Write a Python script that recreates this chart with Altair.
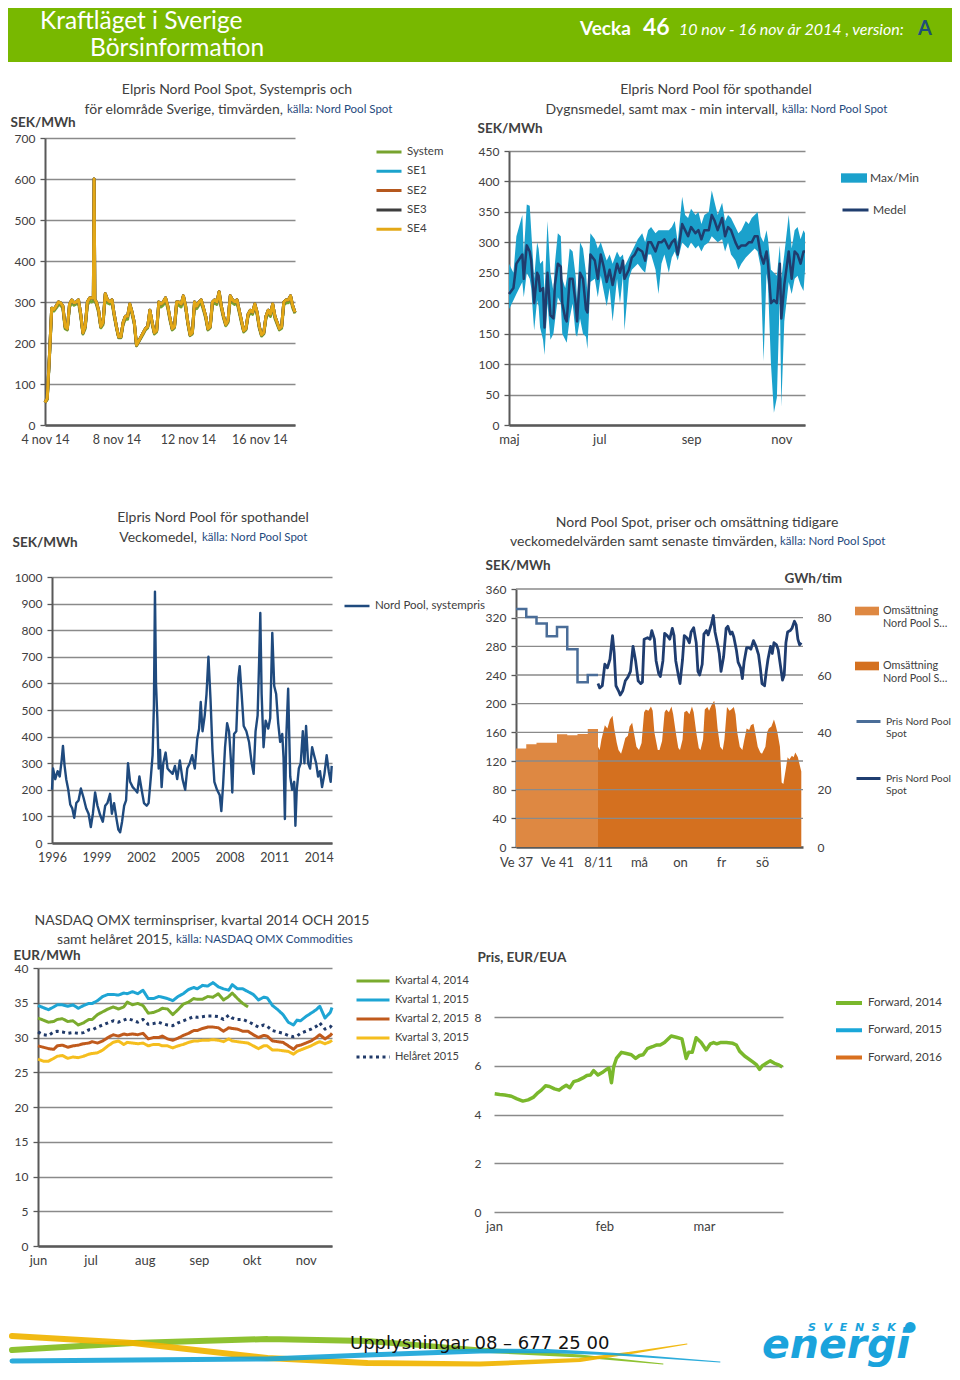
import altair as alt
import pandas as pd

FONT = "Lato"
TXT = "#404040"
SRC = "#1f497d"
GRID = "#8a8a8a"
AXD = "#595959"
BAND = "#78b800"

# ---------------- Panel 1: hourly area prices ----------------
P1_SERIES = ["System", "SE1", "SE2", "SE3", "SE4"]
P1_COLORS = ["#77a32e", "#1ca3cc", "#b5581e", "#3d3d3d", "#e3a817"]
P1_TICKS = [0, 96, 192, 288]
P1_TICK_LABELS = ["4 nov 14", "8 nov 14", "12 nov 14", "16 nov 14"]
P1_YTICKS = [0, 100, 200, 300, 400, 500, 600, 700]
P1_HOURS = list(range(0, 337, 3))
P1_SYSTEM = [
    55, 62, 165, 278, 278, 285, 293, 292,
    285, 235, 232, 288, 298, 292, 295, 298,
    265, 222, 235, 293, 302, 300, 305, 295,
    275, 237, 245, 312, 298, 295, 300, 265,
    237, 213, 213, 245, 258, 258, 288, 270,
    246, 193, 203, 212, 222, 232, 237, 275,
    246, 222, 227, 292, 288, 293, 303, 285,
    255, 232, 237, 292, 292, 288, 307, 285,
    246, 218, 222, 292, 284, 293, 298, 280,
    260, 232, 237, 293, 298, 294, 317, 285,
    260, 242, 250, 307, 298, 294, 299, 275,
    250, 227, 232, 265, 274, 270, 289, 270,
    236, 217, 222, 260, 274, 265, 289, 260,
    246, 232, 236, 293, 298, 298, 308, 285,
    272]
P1_SE_HOURS = sorted(P1_HOURS + [65, 67])
P1_SE4 = [
    55, 65, 170, 285, 282, 290, 300, 298,
    290, 240, 235, 295, 305, 298, 300, 305,
    270, 225, 240, 300, 310, 310, 312, 600, 306, 300,
    280, 240, 250, 320, 305, 300, 305, 270,
    240, 215, 215, 250, 265, 265, 295, 275,
    250, 195, 205, 215, 225, 235, 240, 280,
    250, 225, 230, 300, 295, 300, 310, 290,
    260, 235, 240, 300, 300, 295, 315, 290,
    250, 220, 225, 300, 290, 300, 305, 285,
    265, 235, 240, 300, 305, 300, 325, 290,
    265, 245, 255, 315, 305, 300, 305, 280,
    255, 230, 235, 270, 280, 275, 295, 275,
    240, 220, 225, 265, 280, 270, 295, 265,
    250, 235, 240, 300, 305, 305, 315, 290,
    275]
P1_SE1 = P1_SE4
P1_SE2 = P1_SE4
P1_SE3 = P1_SE4

# ---------------- Panel 2: daily mean + max/min ----------------
P2_TICKS = [0, 61, 123, 184]
P2_TICK_LABELS = ["maj", "jul", "sep", "nov"]
P2_YTICKS = list(range(0, 451, 50))
P2_DAY = [0, 3, 5, 9, 10, 12, 14, 15, 17, 19, 20, 21, 23, 24, 26, 28, 30, 31, 33, 35,
          36, 38, 39, 41, 43, 45, 46, 48, 50, 52, 53, 55, 58, 60, 62, 64, 66, 68, 70, 73,
          75, 77, 78, 81, 83, 85, 87, 90, 92, 94, 96, 99, 101, 103, 105, 108, 110, 112, 114, 117,
          119, 121, 123, 126, 128, 130, 132, 135, 137, 139, 141, 144, 146, 148, 150, 153, 155, 157, 160, 162,
          164, 166, 168, 170, 172, 174, 175, 177, 179, 181, 183, 184, 186, 189, 191, 193, 195, 197, 199, 200]
P2_MEAN = [215, 225, 265, 280, 240, 295, 285, 270, 200, 250, 245, 220, 225, 160, 250, 180, 175, 230, 265, 260,
           200, 175, 170, 240, 240, 200, 170, 250, 240, 190, 185, 280, 270, 240, 280, 260, 235, 255, 230, 265,
           250, 270, 240, 255, 275, 280, 290, 285, 270, 300, 300, 285, 300, 300, 305, 290, 300, 305, 280, 330,
           320, 310, 325, 315, 320, 305, 320, 320, 345, 335, 320, 340, 310, 325, 320, 300, 290, 295, 295, 300,
           300, 310, 310, 280, 265, 285, 265, 200, 205, 200, 265, 175, 230, 285, 240, 285, 280, 265, 285, 285]
P2_MAX = [265, 250, 310, 345, 280, 362, 360, 320, 240, 300, 290, 265, 270, 215, 335, 250, 220, 265, 315, 310,
          240, 225, 240, 290, 285, 245, 205, 300, 290, 250, 215, 315, 305, 290, 300, 285, 270, 280, 265, 285,
          275, 280, 260, 275, 285, 295, 305, 315, 300, 320, 325, 315, 320, 320, 320, 320, 325, 335, 300, 375,
          345, 340, 355, 345, 350, 330, 345, 350, 385, 365, 345, 365, 335, 345, 340, 325, 315, 320, 335, 330,
          340, 345, 350, 310, 300, 320, 305, 255, 250, 245, 295, 240, 280, 345, 290, 320, 325, 305, 320, 315]
P2_MIN = [190, 205, 215, 235, 210, 250, 240, 225, 155, 205, 195, 160, 140, 115, 200, 140, 150, 170, 210, 200,
          150, 140, 135, 175, 200, 150, 145, 175, 150, 145, 125, 235, 240, 210, 245, 220, 195, 225, 170, 240,
          200, 245, 155, 240, 255, 260, 265, 255, 250, 280, 280, 255, 215, 265, 280, 250, 275, 285, 270, 300,
          295, 290, 300, 290, 295, 285, 295, 300, 310, 305, 300, 305, 285, 300, 280, 270, 255, 265, 275, 280,
          285, 290, 285, 260, 105, 250, 230, 100, 20, 45, 215, 30, 170, 235, 215, 240, 245, 230, 220, 255]
P2_KEYS = ["Max/Min", "Medel"]
P2_COLORS = ["#1ba1cc", "#1f3d6e"]

# ---------------- Panel 3: weekly system price 1996-2014 ----------------
P3_TICKS = [1996, 1999, 2002, 2005, 2008, 2011, 2014]
P3_YTICKS = list(range(0, 1001, 100))
P3_T = [1996.00, 1996.07, 1996.22, 1996.38, 1996.52, 1996.65, 1996.74, 1996.85, 1996.96, 1997.10,
        1997.23, 1997.37, 1997.50, 1997.64, 1997.79, 1997.95, 1998.13, 1998.31, 1998.47, 1998.62,
        1998.76, 1998.91, 1999.07, 1999.25, 1999.43, 1999.59, 1999.74, 1999.92, 2000.04, 2000.19,
        2000.37, 2000.48, 2000.60, 2000.73, 2000.87, 2001.00, 2001.13, 2001.27, 2001.45, 2001.61,
        2001.76, 2001.90, 2002.05, 2002.21, 2002.39, 2002.52, 2002.66, 2002.79, 2002.88, 2002.95,
        2003.02, 2003.11, 2003.20, 2003.29, 2003.40, 2003.51, 2003.67, 2003.80, 2003.96, 2004.14,
        2004.30, 2004.45, 2004.63, 2004.81, 2004.99, 2005.13, 2005.30, 2005.46, 2005.64, 2005.80,
        2005.93, 2006.04, 2006.16, 2006.31, 2006.43, 2006.56, 2006.70, 2006.83, 2006.96, 2007.14,
        2007.32, 2007.43, 2007.55, 2007.68, 2007.82, 2007.95, 2008.09, 2008.17, 2008.29, 2008.44,
        2008.58, 2008.67, 2008.80, 2008.94, 2009.12, 2009.30, 2009.48, 2009.61, 2009.74, 2009.88,
        2009.99, 2010.06, 2010.15, 2010.28, 2010.42, 2010.60, 2010.73, 2010.87, 2011.00, 2011.13,
        2011.27, 2011.40, 2011.54, 2011.63, 2011.72, 2011.81, 2011.94, 2012.08, 2012.21, 2012.35,
        2012.43, 2012.52, 2012.66, 2012.79, 2012.93, 2013.04, 2013.15, 2013.29, 2013.42, 2013.56,
        2013.69, 2013.83, 2013.96, 2014.09, 2014.23, 2014.39, 2014.54, 2014.68, 2014.81, 2014.88]
P3_V = [200, 280, 240, 270, 250, 310, 365, 290, 240, 200,
        145, 130, 95, 150, 160, 205, 170, 130, 110, 60,
        110, 190, 140, 105, 80, 140, 150, 185, 110, 150,
        85, 50, 40, 80, 140, 160, 300, 230, 210, 200,
        190, 250, 200, 150, 140, 150, 240, 330, 520, 945,
        600, 470, 280, 350, 210, 300, 340, 280, 270, 260,
        290, 240, 310, 240, 200, 280, 300, 330, 280, 390,
        430, 530, 420, 480, 560, 700, 540, 350, 230, 200,
        180, 120, 220, 360, 450, 420, 300, 190, 410, 420,
        620, 665, 560, 440, 420, 380, 300, 260, 420, 480,
        700, 865, 560, 360, 460, 430, 470, 790, 590, 560,
        450, 380, 410, 320, 90, 390, 580, 250, 200, 230,
        65, 200, 280, 300, 420, 300, 440, 300, 280, 360,
        330, 300, 250, 270, 210, 260, 330, 270, 230, 290]
P3_KEY = ["Nord Pool, systempris"]
P3_COLOR = ["#1f4a7e"]

# ---------------- Panel 4: weekly + hourly price & turnover ----------------
P4_TICKS = [-4, -2, 0, 2, 4, 6, 8]
P4_TICK_LABELS = ["Ve 37", "Ve 41", "8/11", "må", "on", "fr", "sö"]
P4_LEFT = list(range(0, 361, 40))
P4_RIGHT = [0, 20, 40, 60, 80]
P4_WEEKS = [37, 38, 39, 40, 41, 42, 43, 44]
P4_WEEK_SEK = [332, 321, 312, 294, 307, 276, 230, 240]
P4_WEEK_GWH = [34.4, 35.8, 36.4, 36.4, 39.3, 39.0, 39.4, 41.2]
P4_HOUR_P = [0, 2, 5, 8, 11, 14, 17, 19, 21, 24, 26, 29, 32, 35, 38, 41, 44, 47, 50, 52,
             54, 58, 61, 63, 66, 68, 71, 73, 76, 78, 81, 84, 87, 89, 91, 94, 96, 99, 101, 104,
             107, 109, 112, 115, 117, 119, 122, 124, 127, 129, 133, 135, 137, 140, 142, 144, 147, 150, 152, 155,
             157, 159, 162, 164, 167, 169, 171, 174, 177, 179, 182, 185, 188, 190, 192, 195, 197, 199, 202, 204,
             206, 209, 211, 213, 216, 218, 220, 222, 225, 227, 230, 232, 234, 236, 238]
P4_SEK = [228, 222, 225, 255, 250, 262, 295, 270, 225, 218, 212, 218, 232, 237, 245, 280, 260, 232, 228, 230,
          290, 292, 290, 302, 290, 260, 242, 238, 260, 298, 295, 290, 305, 295, 260, 240, 228, 262, 295, 292,
          285, 300, 306, 285, 245, 240, 255, 297, 302, 296, 312, 323, 300, 283, 270, 245, 265, 305, 308, 297,
          300, 293, 275, 258, 250, 235, 258, 278, 278, 276, 288, 280, 268, 250, 228, 225, 245, 262, 280, 270,
          285, 282, 275, 258, 233, 240, 285, 300, 302, 305, 315, 310, 290, 282, 285]
P4_HOUR_T = [0, 2, 4, 8, 11, 14, 17, 19, 22, 24, 27, 29, 32, 35, 37, 40, 42, 45, 48, 51,
             54, 56, 59, 62, 64, 66, 70, 72, 75, 78, 80, 83, 86, 88, 91, 94, 96, 99, 101, 104,
             107, 110, 112, 115, 118, 120, 123, 125, 128, 130, 133, 136, 138, 140, 143, 146, 148, 151, 154, 156,
             159, 161, 163, 166, 169, 171, 174, 177, 179, 182, 184, 187, 190, 192, 196, 198, 200, 203, 206, 208,
             210, 213, 215, 217, 220, 222, 224, 227, 229, 231, 234, 236, 238]
P4_GWH = [35, 33.8, 37.5, 42.5, 41.3, 44.5, 45.8, 41.3, 36.3, 33.8, 32.5, 34.5, 38, 38.8, 42, 43.3, 40, 35, 33.8, 36.3,
          47, 48, 47.5, 49, 47.5, 40, 33.8, 33.8, 37, 47, 48, 47, 49, 46.3, 40, 34.5, 33.8, 37.5, 47, 47.5,
          46.3, 49, 47, 40, 34.5, 33.8, 37.5, 48, 48.8, 47.5, 49.5, 51, 48, 41.3, 35, 33.8, 37.5, 48.8, 47.5, 48,
          48.8, 46.3, 40, 35, 33.8, 37, 41.3, 40.8, 42.5, 43, 40, 35, 33, 32.5, 35, 40, 41.3, 42, 44.5, 42.5,
          40, 35, 22.5, 22, 27.5, 31.3, 30.5, 31.8, 31.3, 33, 31.3, 28.8, 26.3]
P4_FILL_KEYS = ["oms_vecka", "oms_timme"]
P4_LINE_KEYS = ["pris_vecka", "pris_timme"]
P4_FILL_COLORS = ["#de8842", "#d4701f"]
P4_LINE_COLORS = ["#4a6d98", "#1f3d70"]
P4_FILL_LABEL = ["Omsättning", "Nord Pool Spot"]
P4_LINE_LABEL = ["Pris Nord Pool", "Spot"]

# ---------------- Panel 5: NASDAQ OMX forwards ----------------
P5_TICKS = [0, 30, 61, 92, 122, 153]
P5_TICK_LABELS = ["jun", "jul", "aug", "sep", "okt", "nov"]
P5_YTICKS = list(range(0, 41, 5))
P5_SERIES = ["Kvartal 4, 2014", "Kvartal 1, 2015", "Kvartal 2, 2015", "Kvartal 3, 2015", "Helåret 2015"]
P5_COLORS = ["#7aab2e", "#1ea5d4", "#c05a1c", "#f5be1e", "#213a69"]
P5_DASH = [[1, 0], [1, 0], [1, 0], [1, 0], [3, 3.5]]
P5_DAY = [0, 3, 6, 9, 11, 14, 17, 20, 23, 26, 29, 31, 34, 37, 40, 43, 46, 49, 51, 54,
          57, 60, 63, 66, 69, 71, 74, 77, 80, 83, 86, 89, 91, 94, 97, 100, 103, 106, 109, 111,
          114, 117, 120, 123, 126, 129, 131, 134, 137, 140, 143, 146, 148, 150, 153, 156, 159, 161, 164, 167, 168]
P5_Q4_2014 = [32.8, 32.5, 32.2, 32.3, 32.6, 32.7, 32.3, 32.4, 31.8, 32.1, 32.6, 32.6, 33.3, 33.7, 34.1, 34.4,
              34.1, 34.4, 35.1, 34.7, 34.9, 34.6, 33.5, 33.6, 33.9, 34.2, 34.1, 33.3, 34.0, 34.8, 35.1, 35.6,
              35.5, 35.5, 35.9, 35.8, 36.3, 35.4, 35.9, 36.4, 35.6, 34.9, 34.4]
P5_Q1_2015 = [34.6, 34.3, 34.0, 34.4, 34.7, 34.7, 34.5, 34.7, 34.2, 34.6, 34.9, 34.9, 35.3, 35.9, 36.2, 36.2,
              36.1, 36.4, 36.3, 36.6, 36.3, 36.8, 35.6, 35.6, 35.9, 35.8, 35.6, 35.3, 35.9, 36.3, 36.9, 37.2,
              37.0, 37.5, 37.4, 37.9, 37.3, 37.0, 36.8, 37.6, 37.0, 37.0, 36.6, 36.2, 35.4, 35.8, 35.7, 34.6,
              34.0, 33.3, 32.2, 31.8, 32.5, 32.4, 33.0, 33.5, 34.0, 34.5, 32.8, 33.6, 34.3]
P5_Q2_2015 = [28.8, 28.6, 28.4, 28.3, 28.8, 28.9, 28.6, 28.8, 28.9, 29.1, 29.2, 29.4, 29.2, 29.5, 30.0, 30.4,
              30.2, 30.5, 30.4, 30.5, 30.4, 30.6, 29.8, 30.0, 30.0, 30.2, 29.8, 29.6, 29.9, 30.3, 30.6, 31.0,
              31.0, 31.3, 31.5, 31.5, 31.4, 30.9, 31.4, 31.3, 31.2, 30.9, 30.9, 30.4, 30.0, 30.3, 30.2, 29.5,
              29.4, 29.3, 28.8, 28.3, 28.8, 28.9, 29.2, 29.5, 30.0, 30.4, 29.8, 30.3, 30.6]
P5_Q3_2015 = [26.9, 26.6, 26.6, 27.0, 27.3, 27.4, 27.0, 27.2, 27.1, 27.3, 27.6, 27.7, 27.8, 28.2, 28.8, 29.3,
              29.5, 29.0, 29.3, 29.2, 29.1, 29.2, 28.8, 29.0, 29.0, 28.8, 28.8, 28.5, 28.8, 29.0, 29.3, 29.5,
              29.5, 29.6, 29.6, 29.7, 29.6, 29.4, 29.8, 29.5, 29.4, 29.3, 29.2, 28.8, 28.4, 28.8, 28.8, 28.2,
              28.2, 28.1, 28.0, 27.6, 28.0, 28.2, 28.5, 28.8, 29.2, 29.4, 29.1, 29.4, 29.6]
P5_YEAR_2015 = [30.8, 30.4, 30.3, 30.8, 30.9, 30.8, 30.6, 30.7, 30.6, 30.7, 31.1, 31.1, 31.5, 31.8, 32.1, 32.4,
                32.2, 32.5, 32.7, 32.5, 32.2, 32.6, 31.9, 32.0, 32.2, 32.0, 31.8, 31.7, 32.1, 32.4, 32.7, 33.0,
                32.9, 33.0, 33.1, 33.1, 33.0, 32.6, 33.2, 32.8, 32.6, 32.6, 32.3, 31.9, 31.5, 31.8, 31.6, 31.0,
                30.8, 30.6, 30.3, 30.1, 30.2, 30.6, 30.9, 31.2, 31.6, 32.1, 31.2, 31.5, 31.8]

# ---------------- Panel 6: EUA forward ----------------
P6_TICKS = [0, 31, 59]
P6_TICK_LABELS = ["jan", "feb", "mar"]
P6_YTICKS = [0, 2, 4, 6, 8]
P6_SERIES = ["Forward, 2014", "Forward, 2015", "Forward, 2016"]
P6_COLORS = ["#7ab82c", "#1aa7d9", "#d9701f"]
P6_DAY = [0.2, 1.6, 3.0, 4.9, 6.3, 8.1, 9.6, 11.0, 12.4, 13.3, 14.5, 15.6, 17.0, 18.3, 19.4, 20.3, 21.3,
          22.4, 23.6, 25.0, 26.1, 27.1, 28.0, 29.2, 30.4, 31.6, 32.3, 33.0, 33.6, 34.4, 35.8, 37.2, 38.6,
          39.8, 40.9, 41.9, 43.1, 44.5, 45.6, 46.7, 47.9, 49.8, 51.2, 52.8, 54.0, 54.7, 55.7, 56.8, 58.2,
          59.6, 60.8, 61.7, 62.6, 63.6, 65.3, 67.1, 68.1, 69.0, 70.4, 72.8, 73.7, 74.6, 75.4, 76.5, 77.6,
          78.8, 79.8, 81.0]
P6_F2014 = [4.85, 4.82, 4.80, 4.75, 4.65, 4.55, 4.60, 4.70, 4.90, 5.00, 5.18, 5.15, 5.05, 5.00, 5.12, 5.20,
            5.10, 5.35, 5.40, 5.50, 5.60, 5.62, 5.80, 5.62, 5.72, 5.85, 5.90, 5.30, 5.95, 6.30, 6.55, 6.50,
            6.45, 6.30, 6.42, 6.45, 6.70, 6.78, 6.85, 6.85, 6.95, 7.22, 7.17, 7.10, 6.30, 6.55, 6.55, 7.15,
            6.95, 6.65, 6.90, 6.95, 6.90, 6.95, 6.95, 6.92, 6.85, 6.60, 6.40, 6.15, 6.05, 5.85, 6.00, 6.10,
            6.20, 6.10, 6.05, 5.95]

# ---------------- Footer swooshes ----------------
SW_KEYS = ["grön", "gul", "blå"]
SW_COLORS = ["#84bd1f", "#f0b400", "#1aa5d8"]
SW_GREEN_X = [12, 133, 267, 367, 480, 580, 663]
SW_GREEN_Y = [1350, 1343, 1339, 1341, 1350, 1356, 1364]
SW_GREEN_W = [6, 6, 6, 6, 5, 3, 1]
SW_YELLOW_X = [12, 133, 267, 367, 480, 580, 630, 687]
SW_YELLOW_Y = [1336, 1343, 1358, 1363, 1364, 1360, 1353, 1344]
SW_YELLOW_W = [6, 6, 6, 6, 5, 4, 2.5, 1]
SW_BLUE_X = [12, 267, 367, 480, 547, 613, 720]
SW_BLUE_Y = [1361, 1359, 1355, 1351, 1351, 1354, 1362]
SW_BLUE_W = [5, 5, 5, 5, 4, 2.5, 1]


# ---------------- helpers ----------------
def lab_expr(ticks, labels):
    arr = ",".join("'" + s + "'" for s in labels)
    tv = ",".join(repr(t) for t in ticks)
    return "[" + arr + "][indexof([" + tv + "], datum.value)]"


def arr_expr(lines):
    return "[" + ",".join("'" + s + "'" for s in lines) + "]"


def x_axis(ticks, labels=None, pad=8, domain=True, fmt=None, fs=12.5):
    kw = dict(values=ticks, title=None, grid=False, ticks=False, labelFont=FONT, labelFontSize=fs,
              labelColor=TXT, labelPadding=pad, labelFlush=False, labelOverlap=False,
              domain=domain, domainColor=AXD, domainWidth=2.5)
    if labels:
        kw["labelExpr"] = lab_expr(ticks, labels)
    if fmt:
        kw["format"] = fmt
    return alt.Axis(**kw)


def y_axis(vals, title, tx, ty, grid=True, domain=True, ticks=True, pad=5, orient="left", fmt=None):
    kw = dict(orient=orient, values=vals, title=title, titleX=tx, titleY=ty, titleAngle=0,
              titleAlign="left", titleBaseline="middle", titleFont=FONT, titleFontSize=13.5,
              titleFontWeight="bold", titleColor=TXT, labelFont=FONT, labelFontSize=12,
              labelColor=TXT, labelPadding=pad, labelFlush=False, labelOverlap=False,
              grid=grid, gridColor=GRID, gridWidth=1.3, domain=domain, domainColor=AXD,
              domainWidth=2, ticks=ticks, tickColor=AXD, tickWidth=1.3, tickSize=5)
    if fmt:
        kw["format"] = fmt
    return alt.Axis(**kw)


def legend(x, y, sym="stroke", size=625, sw=3, clip=12, rowpad=7, fs=11.5, offset=4, limit=0, expr=None):
    kw = dict(orient="none", legendX=x, legendY=y, title=None, symbolType=sym, symbolSize=size,
              symbolStrokeWidth=sw, labelFont=FONT, labelFontSize=fs, labelColor=TXT,
              labelOffset=offset, rowPadding=rowpad, padding=0, symbolOpacity=1)
    if clip:
        kw["clipHeight"] = clip
    if limit:
        kw["labelLimit"] = limit
    if expr:
        kw["labelExpr"] = expr
    return alt.Legend(**kw)


def txt(text, x, y, size=14, color=TXT, weight="normal", align="left", style="normal", font=FONT):
    return alt.Chart(pd.DataFrame({"t": [text]})).mark_text(
        align=align, baseline="middle", fontSize=size, color=color, fontWeight=weight,
        fontStyle=style, font=font).encode(text="t:N", x=alt.value(x), y=alt.value(y))


def spacer(w, h):
    return alt.Chart(pd.DataFrame({"s": [0]})).mark_point(opacity=0).properties(width=w, height=h)


def row_frame(w, top, bottom):
    # invisible vertical rule that fixes the vertical extent of a row
    return alt.Chart(pd.DataFrame({"s": [0]})).mark_rule(strokeOpacity=0, strokeWidth=1).encode(
        x=alt.value(1), y=alt.value(top), y2=alt.value(bottom)).properties(width=w, height=1)


RES = dict(color="independent", fill="independent", stroke="independent",
           strokeDash="independent", size="independent")


def hcat(*c):
    return alt.hconcat(*c, spacing=0, bounds="flush").resolve_scale(**RES)


RECT = "M-1,-0.36L1,-0.36L1,0.36L-1,0.36Z"

# ---------------- Panel 1 ----------------
rows = []
for name, hrs, vals in [("System", P1_HOURS, P1_SYSTEM), ("SE1", P1_SE_HOURS, P1_SE1),
                        ("SE2", P1_SE_HOURS, P1_SE2), ("SE3", P1_SE_HOURS, P1_SE3),
                        ("SE4", P1_SE_HOURS, P1_SE4)]:
    for h, v in zip(hrs, vals):
        rows.append({"h": h, "v": v, "s": name})
df1 = pd.DataFrame(rows)

p1 = alt.layer(
    alt.Chart(df1).mark_line(strokeWidth=3, strokeJoin="round").encode(
        x=alt.X("h:Q", scale=alt.Scale(domain=[0, 336], nice=False, zero=False),
                axis=x_axis(P1_TICKS, P1_TICK_LABELS, pad=8)),
        y=alt.Y("v:Q", scale=alt.Scale(domain=[0, 700], nice=False),
                axis=y_axis(P1_YTICKS, "SEK/MWh", -35, -16)),
        color=alt.Color("s:N", scale=alt.Scale(domain=P1_SERIES, range=P1_COLORS),
                        legend=legend(330, 8, size=625, sw=3, clip=12, rowpad=7.3)),
    ),
    txt("Elpris Nord Pool Spot, Systempris och", 192, -48, align="center"),
    txt("för elområde Sverige, timvärden,", 238, -28, align="right"),
    txt("källa: Nord Pool Spot", 242, -28, size=11.5, color=SRC),
).properties(width=250, height=287)

# ---------------- Panel 2 (cell 287 high, plot starts 13 px down) ----------------
O2 = 13
df2 = pd.DataFrame({"d": P2_DAY, "mean": P2_MEAN, "mx": P2_MAX, "mn": P2_MIN})
df2["k"] = P2_KEYS[0]
df2["k2"] = P2_KEYS[1]
x2 = alt.X("d:Q", scale=alt.Scale(domain=[0, 200], nice=False, zero=False),
           axis=x_axis(P2_TICKS, P2_TICK_LABELS, pad=8, fs=13))
ax2 = y_axis(P2_YTICKS, "SEK/MWh", -32, -23 + O2)
ys2 = alt.Scale(domain=[0, 450], nice=False, range=[287, O2])
p2 = alt.layer(
    alt.Chart(df2).mark_area(opacity=1).encode(
        x=x2,
        y=alt.Y("mx:Q", scale=ys2, axis=ax2),
        y2="mn:Q",
        fill=alt.Fill("k:N", scale=alt.Scale(domain=P2_KEYS[:1], range=P2_COLORS[:1]),
                      legend=legend(332, 21 + O2, sym=RECT, size=676, sw=0, clip=12, offset=3, fs=12)),
    ),
    alt.Chart(df2).mark_line(strokeWidth=2.5, strokeJoin="round").encode(
        x=x2,
        y=alt.Y("mean:Q", scale=ys2, axis=ax2),
        stroke=alt.Stroke("k2:N", scale=alt.Scale(domain=P2_KEYS[1:], range=P2_COLORS[1:]),
                          legend=legend(332, 53 + O2, size=676, sw=3, clip=12, offset=3, fs=12)),
    ),
    txt("Elpris Nord Pool för spothandel", 207, -61 + O2, align="center"),
    txt("Dygnsmedel, samt max - min intervall,", 269, -41 + O2, align="right"),
    txt("källa: Nord Pool Spot", 273, -41 + O2, size=11.5, color=SRC),
).properties(width=296, height=287)

# ---------------- Panel 3 ----------------
df3 = pd.DataFrame({"t": P3_T, "v": P3_V})
df3["k"] = P3_KEY[0]
p3 = alt.layer(
    alt.Chart(df3).mark_line(strokeWidth=2.4, strokeJoin="round").encode(
        x=alt.X("t:Q", scale=alt.Scale(domain=[1996, 2014.9], nice=False, zero=False),
                axis=x_axis(P3_TICKS, pad=8, fmt="d")),
        y=alt.Y("v:Q", scale=alt.Scale(domain=[0, 1000], nice=False),
                axis=y_axis(P3_YTICKS, "SEK/MWh", -40, -35, fmt="d")),
        color=alt.Color("k:N", scale=alt.Scale(domain=P3_KEY, range=P3_COLOR),
                        legend=legend(291, 23, size=625, sw=2.5, clip=12, fs=11.5)),
    ),
    txt("Elpris Nord Pool för spothandel", 161, -59, align="center"),
    txt("Veckomedel,", 145, -39, align="right"),
    txt("källa: Nord Pool Spot", 150, -39, size=11.5, color=SRC),
).properties(width=280, height=266)

# ---------------- Panel 4 (cell 270 high, plot starts 12 px down) ----------------
O4 = 12
wx = [(w - 45) * 0.5 for w in P4_WEEKS] + [0.0]
df4w = pd.DataFrame({"x": wx, "gwh": P4_WEEK_GWH + P4_WEEK_GWH[-1:],
                     "sek": P4_WEEK_SEK + P4_WEEK_SEK[-1:], "kf": P4_FILL_KEYS[0], "ks": P4_LINE_KEYS[0]})
df4t = pd.DataFrame({"x": [h / 24 for h in P4_HOUR_T], "gwh": P4_GWH, "kf": P4_FILL_KEYS[1]})
df4p = pd.DataFrame({"x": [h / 24 for h in P4_HOUR_P], "sek": P4_SEK, "ks": P4_LINE_KEYS[1]})
df4g = pd.DataFrame({"sek": P4_LEFT[1:]})

x4 = alt.X("x:Q", scale=alt.Scale(domain=[-4, 10], nice=False, zero=False),
           axis=x_axis(P4_TICKS, P4_TICK_LABELS, pad=9, fs=13))
yR = alt.Y("gwh:Q", scale=alt.Scale(domain=[0, 90], nice=False, range=[270, O4]),
           axis=alt.Axis(orient="right", values=P4_RIGHT, title="GWh/tim", titleX=-19, titleY=-11 + O4,
                         titleAngle=0, titleAlign="left", titleBaseline="middle", titleFont=FONT,
                         titleFontSize=13.5, titleFontWeight="bold", titleColor=TXT, labelFont=FONT,
                         labelFontSize=12, labelColor=TXT, labelPadding=14, labelFlush=False,
                         grid=False, domain=False, ticks=False))
yL = alt.Y("sek:Q", scale=alt.Scale(domain=[0, 360], nice=False, range=[270, O4]),
           axis=y_axis(P4_LEFT, "SEK/MWh", -31, -24 + O4, grid=False))
fill4 = alt.Fill("kf:N", scale=alt.Scale(domain=P4_FILL_KEYS, range=P4_FILL_COLORS),
                 legend=legend(339, 10 + O4, sym=RECT, size=576, sw=0, clip=0, rowpad=25, fs=10.8,
                               offset=4, limit=68, expr=arr_expr(P4_FILL_LABEL)))
stroke4 = alt.Stroke("ks:N", scale=alt.Scale(domain=P4_LINE_KEYS, range=P4_LINE_COLORS),
                     legend=legend(339, 119 + O4, size=576, sw=3, clip=0, rowpad=25, fs=10.3,
                                   offset=4, limit=68, expr=arr_expr(P4_LINE_LABEL)))
areas4 = alt.layer(
    alt.Chart(df4w).mark_area(interpolate="step-after").encode(x=x4, y=yR, fill=fill4),
    alt.Chart(df4t).mark_area().encode(x=x4, y=yR, fill=fill4),
)
lines4 = alt.layer(
    alt.Chart(df4g).mark_rule(color=GRID, strokeWidth=1.3).encode(y=yL),
    alt.Chart(df4w).mark_line(interpolate="step-after", strokeWidth=2.5).encode(x=x4, y=yL, stroke=stroke4),
    alt.Chart(df4p).mark_line(strokeWidth=2.8, strokeJoin="round").encode(x=x4, y=yL, stroke=stroke4),
)
p4 = alt.layer(
    areas4, lines4,
    txt("Nord Pool Spot, priser och omsättning tidigare", 181, -66 + O4, align="center"),
    txt("veckomedelvärden samt senaste timvärden,", 261, -47 + O4, align="right"),
    txt("källa: Nord Pool Spot", 264, -47 + O4, size=11.5, color=SRC),
).resolve_scale(y="independent").properties(width=287, height=270)

# ---------------- Panel 5 ----------------
rows = []
for name, vals in zip(P5_SERIES, [P5_Q4_2014, P5_Q1_2015, P5_Q2_2015, P5_Q3_2015, P5_YEAR_2015]):
    for d, v in zip(P5_DAY, vals):
        rows.append({"d": d, "v": v, "k": name})
df5 = pd.DataFrame(rows)
leg5 = legend(317, 7, size=1089, sw=3, clip=12, rowpad=7, fs=11)
p5 = alt.layer(
    alt.Chart(df5).mark_line(strokeWidth=3, strokeJoin="round").encode(
        x=alt.X("d:Q", scale=alt.Scale(domain=[0, 168], nice=False, zero=False),
                axis=x_axis(P5_TICKS, P5_TICK_LABELS, pad=8, fs=13)),
        y=alt.Y("v:Q", scale=alt.Scale(domain=[0, 40], nice=False),
                axis=y_axis(P5_YTICKS, "EUR/MWh", -25, -13)),
        color=alt.Color("k:N", scale=alt.Scale(domain=P5_SERIES, range=P5_COLORS), legend=leg5),
        strokeDash=alt.StrokeDash("k:N", scale=alt.Scale(domain=P5_SERIES, range=P5_DASH), legend=leg5),
    ),
    txt("NASDAQ OMX terminspriser, kvartal 2014 OCH 2015", 164, -47, align="center"),
    txt("samt helåret 2015,", 134, -28, align="right"),
    txt("källa: NASDAQ OMX Commodities", 138, -28, size=11.5, color=SRC),
).properties(width=294, height=278)

# ---------------- Panel 6 (cell 244 high, plot starts 49 px down) ----------------
O6 = 49
df6 = pd.DataFrame({"d": P6_DAY, "v": P6_F2014})
df6["k"] = P6_SERIES[0]
p6 = alt.layer(
    alt.Chart(df6).mark_line(strokeWidth=3.5, strokeJoin="round").encode(
        x=alt.X("d:Q", scale=alt.Scale(domain=[0, 81.2], nice=False, zero=False),
                axis=x_axis(P6_TICKS, P6_TICK_LABELS, pad=8, domain=False, fs=13)),
        y=alt.Y("v:Q", scale=alt.Scale(domain=[0, 8], nice=False, range=[244, O6]),
                axis=y_axis(P6_YTICKS, "Pris, EUR/EUA", -17, -60 + O6, domain=False, ticks=False, pad=13)),
        color=alt.Color("k:N", scale=alt.Scale(domain=P6_SERIES, range=P6_COLORS),
                        legend=legend(340, -20 + O6, size=676, sw=4, clip=12, rowpad=15.3, fs=11.5)),
    ),
).properties(width=289, height=244)

# ---------------- Header ----------------
header = alt.layer(
    txt("Kraftläget i Sverige", 32, 14, size=24.5, color="white"),
    txt("Börsinformation", 82, 41, size=24.5, color="white"),
    txt("Vecka", 572, 21, size=19, color="white", weight="bold"),
    txt("46", 635, 20, size=23, color="white", weight="bold"),
    txt("10 nov - 16 nov år 2014 , version:", 671, 22, size=16, color="white", style="italic"),
    txt("A", 910, 21, size=20, color="#1f4e79", weight="bold"),
).properties(width=944, height=54, view=alt.ViewBackground(fill=BAND, strokeWidth=0))

# ---------------- Footer (page y 1270 .. 1364) ----------------
rows = []
for key, xs, ys, ws in [(SW_KEYS[0], SW_GREEN_X, SW_GREEN_Y, SW_GREEN_W),
                        (SW_KEYS[1], SW_YELLOW_X, SW_YELLOW_Y, SW_YELLOW_W),
                        (SW_KEYS[2], SW_BLUE_X, SW_BLUE_Y, SW_BLUE_W)]:
    for x, y, w in zip(xs, ys, ws):
        rows.append({"x": x, "y": y, "w": w, "k": key})
dff = pd.DataFrame(rows)
LOGO = "#1aa3dc"
NB = "\u00a0\u00a0"
footer = alt.layer(
    alt.Chart(dff).mark_trail(opacity=0.92).encode(
        x=alt.X("x:Q", scale=alt.Scale(domain=[8, 952], nice=False, zero=False), axis=None),
        y=alt.Y("y:Q", scale=alt.Scale(domain=[1270, 1364], nice=False, zero=False, reverse=True), axis=None),
        size=alt.Size("w:Q", scale=None, legend=None),
        color=alt.Color("k:N", scale=alt.Scale(domain=SW_KEYS, range=SW_COLORS), legend=None),
    ),
    txt("Upplysningar 08 – 677 25 00", 342, 74, size=18, color="#111111", font="DejaVu Sans"),
    txt(NB.join("SVENSK"), 800, 58, size=11, color=LOGO, weight="bold", style="italic", font="DejaVu Sans"),
    txt("●", 896, 57, size=14, color=LOGO, font="DejaVu Sans"),
    txt("energi", 754, 76, size=41, color=LOGO, weight="bold", style="italic", font="DejaVu Sans"),
).properties(width=944, height=94)

# ---------------- Layout ----------------
# rows: flush horizontally; invisible frame fixes each row's vertical band
row1 = hcat(row_frame(37, -76, 362), p1, spacer(214, 1), p2)        # page 62 .. 500
row2 = hcat(row_frame(44, -77, 323), p3, spacer(184, 1), p4)        # page 500 .. 900
row3 = hcat(row_frame(30, -68, 302), p5, spacer(162, 1), p6)        # page 900 .. 1270

chart = alt.vconcat(header, row1, row2, row3, footer, spacing=0, bounds="full").resolve_scale(
    **RES).properties(padding=0).configure(font=FONT).configure_view(strokeWidth=0, strokeOpacity=0)

chart.save("out.html", embed_options={"renderer": "svg", "actions": False})
